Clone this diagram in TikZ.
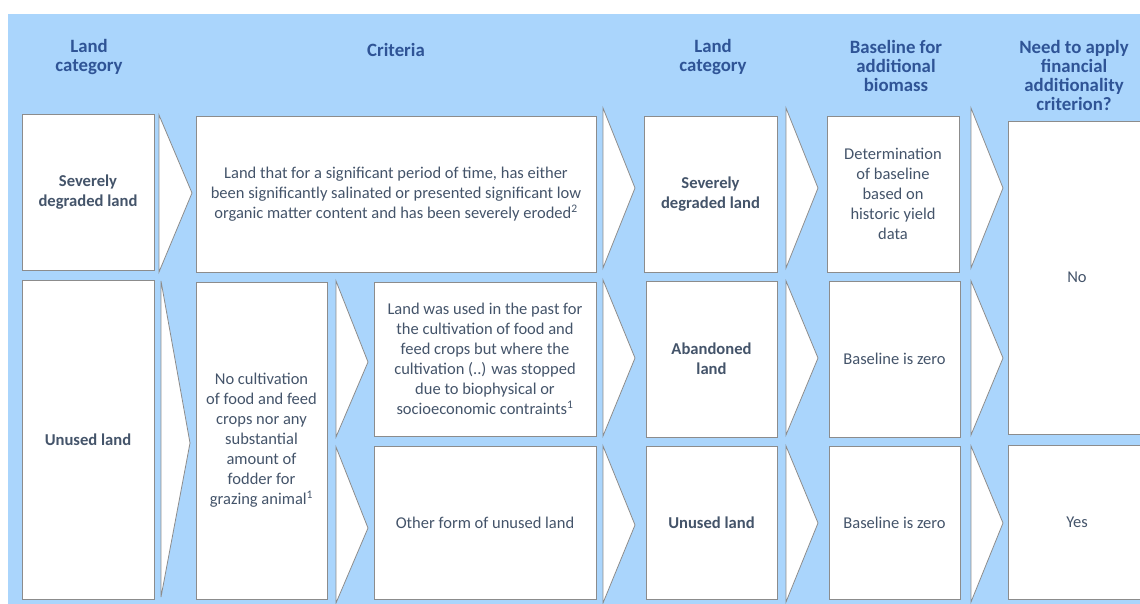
\documentclass[tikz,border=0pt]{standalone}
\usepackage{fontspec}
\setmainfont{Carlito}
\definecolor{panelblue}{RGB}{170,213,252}
\definecolor{edgegray}{RGB}{140,140,140}
\definecolor{headblue}{RGB}{47,84,150}
\definecolor{bodyslate}{RGB}{68,84,106}
\tikzset{
  headtext/.style={text=headblue, align=center, inner sep=0pt,
    font=\fontsize{18.8}{19}\selectfont\bfseries},
  cell/.style={draw=edgegray, fill=white, line width=0.9pt, inner sep=0pt,
    align=center, text=bodyslate, font=\fontsize{16.5}{20}\selectfont},
  catcell/.style={cell, font=\fontsize{16.6}{20}\selectfont\bfseries},
  chevron/.style={draw=edgegray, fill=white, line width=0.8pt, line join=miter}
}
\begin{document}
\begin{tikzpicture}[x=1pt, y=-1pt]
\useasboundingbox (0,0) rectangle (1140,603);
\begin{scope}
\clip (0,0) rectangle (1140,603);
% panel
\fill[panelblue] (8,14) rectangle (1150,610);

% column headings
\node[headtext] (h1) at (89,57) {Land\\category};
\node[headtext] (h2) at (396,50) {Criteria};
\node[headtext] (h3) at (713,57) {Land\\category};
\node[headtext] (h4) at (896,66) {Baseline for\\additional\\biomass};
\node[headtext] (h5) at (1074,75) {Need to apply\\financial\\additionality\\criterion?};

% first row
\node[catcell, minimum width=132pt, minimum height=156pt] (sev) at (88,192) {Severely\\degraded land};
\node[cell, minimum width=400pt, minimum height=156pt] (crit1) at (396,194)
  {Land that for a significant period of time, has either\\
   been significantly salinated or presented significant low\\
   organic matter content and has been severely eroded\textsuperscript{2}};
\node[catcell, minimum width=133pt, minimum height=156pt] (sevout) at (710.5,194) {Severely\\degraded land};
\node[cell, minimum width=132pt, minimum height=156pt] (base1) at (893,194)
  {Determination\\of baseline\\based on\\historic yield\\data};
\node[cell, minimum width=138pt, minimum height=313pt] (no) at (1077,277.5) {No};

% second row
\node[catcell, minimum width=132pt, minimum height=319pt] (unused) at (88,439.5) {Unused land};
\node[cell, minimum width=131pt, minimum height=317pt] (nocult) at (261.5,440.5)
  {No cultivation\\of food and feed\\crops nor any\\substantial\\amount of\\fodder for\\grazing animal\textsuperscript{1}};
\node[cell, minimum width=222pt, minimum height=154pt] (past) at (485,359)
  {Land was used in the past for\\the cultivation of food and\\feed crops but where the\\cultivation (..) was stopped\\due to biophysical or\\socioeconomic contraints\textsuperscript{1}};
\node[cell, minimum width=222pt, minimum height=153pt] (other) at (485,522.5) {Other form of unused land};
\node[catcell, minimum width=131pt, minimum height=156pt] (aband) at (711.5,359) {Abandoned\\land};
\node[catcell, minimum width=131pt, minimum height=153pt] (unusedout) at (711.5,522.5) {Unused land};
\node[cell, minimum width=131pt, minimum height=156pt] (base2) at (894.5,359) {Baseline is zero};
\node[cell, minimum width=131pt, minimum height=153pt] (base3) at (894.5,522.5) {Baseline is zero};
\node[cell, minimum width=138pt, minimum height=154pt] (yes) at (1077,522) {Yes};

% chevrons between the columns
\filldraw[chevron] (159,115) -- (192,193) -- (159,272) -- cycle;
\filldraw[chevron] (603,108) -- (635,188) -- (603,268) -- cycle;
\filldraw[chevron] (786,108) -- (818,188) -- (786,268) -- cycle;
\filldraw[chevron] (971,108) -- (1003,188) -- (971,268) -- cycle;

\filldraw[chevron] (161,281) -- (190,443) -- (161,597) -- cycle;
\filldraw[chevron] (336,281) -- (368,362) -- (336,437) -- cycle;
\filldraw[chevron] (336,447) -- (368,528) -- (336,603) -- cycle;
\filldraw[chevron] (603,280) -- (635,358) -- (603,436) -- cycle;
\filldraw[chevron] (603,446) -- (635,525) -- (603,603) -- cycle;
\filldraw[chevron] (786,281) -- (818,358) -- (786,435) -- cycle;
\filldraw[chevron] (786,446) -- (818,523) -- (786,602) -- cycle;
\filldraw[chevron] (971,281) -- (1003,358) -- (971,435) -- cycle;
\filldraw[chevron] (971,446) -- (1003,523) -- (971,602) -- cycle;
\end{scope}
\end{tikzpicture}
\end{document}
